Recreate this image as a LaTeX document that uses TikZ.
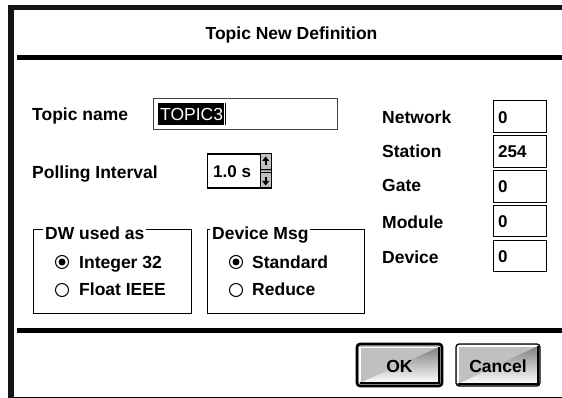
\documentclass[tikz,border=0pt]{standalone}
\usepackage{fontspec}
\setmainfont{Liberation Sans}
\definecolor{btngray}{RGB}{192,192,192}
\definecolor{shade}{RGB}{128,128,128}
\definecolor{frame}{RGB}{20,20,20}
\begin{document}
\begin{tikzpicture}[x=1pt,y=-1pt,
  lbl/.style={font=\fontsize{17.5}{20}\selectfont\bfseries, inner sep=0pt, anchor=base west},
  val/.style={font=\fontsize{17}{20}\selectfont\bfseries, inner sep=0pt, anchor=base west},
  field/.style={draw=black, line width=1pt, fill=white, inner sep=0pt, anchor=north west},
  grouptitle/.style={lbl, fill=white, inner xsep=2pt},
  radio/.style={draw=black, line width=1pt, fill=white},
  groupframe/.style={draw=black, line width=0.9pt},
  btnface/.style={fill=btngray, rounded corners=3pt},
]
\useasboundingbox (0,0) rectangle (562,398);
\fill[white] (0,0) rectangle (562,398);
% window frame
\fill[frame] (8,5) rectangle (14,398);
\fill[frame] (8,5) rectangle (562,10.5);
\fill[black] (17,55) rectangle (562,60);
\fill[black] (17,328) rectangle (562,333);
\draw[shade, line width=0.8pt] (14,397.4) -- (562,397.4);

\node[lbl, anchor=base] (title) at (291.5,40) {Topic New Definition};

% topic name
\node[lbl] (topiclbl) at (32,120.7) {Topic name};
\node[field, draw=shade!50!black, minimum width=184pt, minimum height=31pt] (topicbox) at (153,98) {};
\fill[black] (158,103) rectangle (224,125);
\node[font=\fontsize{17.5}{20}\selectfont, text=white, inner sep=0pt, anchor=base west] (topicval) at (160,120.5) {TOPIC3};
\draw[black, line width=1pt] (225.5,103) -- (225.5,125);

% polling interval
\node[lbl] (polllbl) at (32,178.3) {Polling Interval};
\node[field, minimum width=64pt, minimum height=34pt] (spinbox) at (207,154) {};
\fill[btngray] (260,154) rectangle (271,188);
\fill[shade] (260,169.5) rectangle (271,172.5);
\draw[black, line width=1pt] (207,154) rectangle (271,188);
\draw[black, line width=1pt] (260,154) -- (260,188);
\draw[black, line width=0.8pt] (260,169.5) -- (271,169.5);
\draw[black, line width=0.8pt] (260,172.5) -- (271,172.5);
\fill[black] (265.7,156.5) -- (269.2,161) -- (262.2,161) -- cycle;
\fill[black] (264.8,161) rectangle (266.6,165);
\fill[black] (265.7,185.5) -- (269.2,181) -- (262.2,181) -- cycle;
\fill[black] (264.8,177) rectangle (266.6,181);
\node[val] (spinval) at (213,177.3) {1.0 s};

% right column
\node[lbl] (netlbl) at (382,124) {Network};
\node[lbl] (stalbl) at (382,158) {Station};
\node[lbl] (gatelbl) at (382,192) {Gate};
\node[lbl] (modlbl) at (382,228.3) {Module};
\node[lbl] (devlbl) at (382,263) {Device};
\node[field, minimum width=53pt, minimum height=32pt] (netbox) at (493,100) {};
\node[field, minimum width=53pt, minimum height=32pt] (stabox) at (493,135) {};
\node[field, minimum width=53pt, minimum height=32pt] (gatebox) at (493,170) {};
\node[field, minimum width=53pt, minimum height=31pt] (modbox) at (493,205) {};
\node[field, minimum width=53pt, minimum height=31pt] (devbox) at (493,240) {};
\node[val] (netval) at (498,124) {0};
\node[val] (staval) at (498,158) {254};
\node[val] (gateval) at (498,193) {0};
\node[val] (modval) at (498,227.5) {0};
\node[val] (devval) at (498,262) {0};

% DW used as group
\draw[groupframe] (33,229) rectangle (191,313);
\node[grouptitle] (dwtitle) at (43,239.3) {DW used as};
\draw[radio] (62,262) circle (6.5pt);
\fill[black] (62,262) circle (3.5pt);
\node[lbl] (intlbl) at (79,268.3) {Integer 32};
\draw[radio] (62,290) circle (6.5pt);
\node[lbl] (fltlbl) at (79,295.7) {Float IEEE};

% Device Msg group
\draw[groupframe] (207,229) rectangle (364,313);
\node[grouptitle] (dmtitle) at (210,239.3) {Device Msg};
\draw[radio] (236,262) circle (6.5pt);
\fill[black] (236,262) circle (3.5pt);
\node[lbl] (stdlbl) at (252,268.3) {Standard};
\draw[radio] (236,290) circle (6.5pt);
\node[lbl] (redlbl) at (252,295.7) {Reduce};

% OK button
\fill[btnface] (357,344) rectangle (442,386);
\draw[white, line width=1.5pt] (360,382) -- (360,347.3) -- (438.5,347.3);
\draw[shade, line width=2pt] (360,383) -- (439,383) -- (439,347);
\draw[black, line width=2.6pt, rounded corners=3pt] (357,344) rectangle (442,386);
\node[lbl, anchor=base] (ok) at (399.5,372) {OK};

% Cancel button
\fill[btnface] (456,344) rectangle (540,386);
\draw[white, line width=1.5pt] (458,383) -- (458,346) -- (537.5,346);
\draw[shade, line width=2pt] (458,384) -- (538,384) -- (538,346);
\draw[black, line width=1.2pt, rounded corners=3pt] (456,344) rectangle (540,386);
\node[lbl, anchor=base] (cancel) at (498,372) {Cancel};
\end{tikzpicture}
\end{document}
